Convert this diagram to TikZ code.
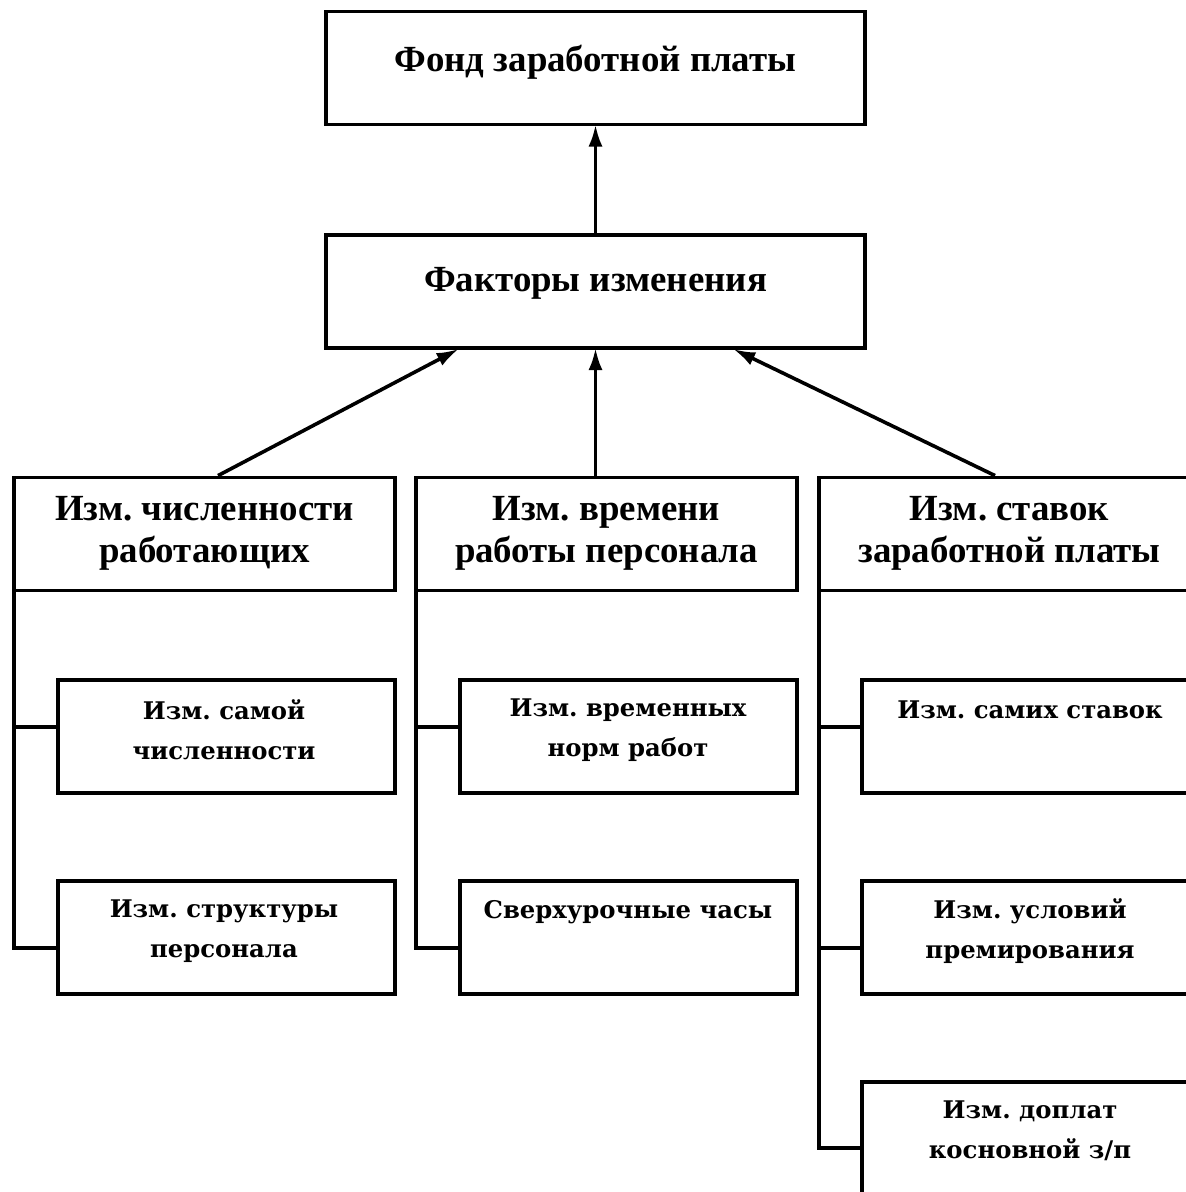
\documentclass[tikz,border=0pt]{standalone}
\usepackage{fontspec}
\setmainfont{Liberation Serif}
\newfontfamily\subfont{DejaVu Serif Bold}
\usetikzlibrary{arrows.meta}
\frenchspacing
\begin{document}
\begin{tikzpicture}[x=1bp,y=-1bp,
  box/.style={draw, line width=3.8bp, inner sep=0pt, minimum width=#1, minimum height=113bp},
  box/.default=539bp,
  conn/.style={line width=3.6bp},
  arr/.style={line width=3.6bp, -{Latex[length=22bp,width=14bp]}, shorten >=-1.9bp},
  bigtxt/.style={font=\fontsize{37}{42}\selectfont\bfseries, align=center, inner sep=0pt},
  smalltxt/.style={font=\fontsize{24.4}{40}\selectfont\subfont, align=center, inner sep=0pt}]
\clip (0,0) rectangle (1186,1192);
\fill[white] (0,0) rectangle (1186,1192);
% main boxes
\node[box] (top) at (595.5,68) {};
\node[box] (fac) at (595.5,291.5) {};
\node[box=381bp] (catL) at (204.5,534) {};
\node[box=381bp] (catM) at (606.5,534) {};
\node[box=381bp] (catR) at (1009.5,534) {};
% sub boxes
\node[box=337bp] (subL1) at (226.5,736.5) {};
\node[box=337bp] (subL2) at (226.5,937.5) {};
\node[box=337bp] (subM1) at (628.5,736.5) {};
\node[box=337bp] (subM2) at (628.5,937.5) {};
\node[box=337bp] (subR1) at (1030.5,736.5) {};
\node[box=337bp] (subR2) at (1030.5,937.5) {};
\node[box=337bp] (subR3) at (1030.5,1138.5) {};
% texts
\node[bigtxt] (ttop) at (595.5,62) {Фонд заработной платы};
\node[bigtxt] (tfac) at (595.5,283) {Факторы изменения};
\node[bigtxt] (tcatL) at (204.5,533) {Изм. численности\\работающих};
\node[bigtxt] (tcatM) at (606.5,533) {Изм. времени\\работы персонала};
\node[bigtxt] (tcatR) at (1009.5,533) {Изм. ставок\\заработной платы};
\node[smalltxt] (tsubL1) at (224,730) {Изм. самой\\численности};
\node[smalltxt] (tsubL2) at (224,931) {Изм. структуры\\персонала};
\node[smalltxt] (tsubM1) at (628,730) {Изм. временных\\норм работ};
\node[smalltxt] (tsubM2) at (628,912) {Сверхурочные часы};
\node[smalltxt] (tsubR1) at (1030,710) {Изм. самих ставок};
\node[smalltxt] (tsubR2) at (1030,931) {Изм. условий\\премирования};
\node[smalltxt] (tsubR3) at (1030,1131) {Изм. доплат\\косновной з/п};
% arrows
\draw[arr] (fac.north) -- (top.south);
\draw[arr] ([xshift=13.5bp]catL.north) -- ([xshift=-138.5bp]fac.south);
\draw[arr] (catM.north -| fac.south) -- (fac.south);
\draw[arr] ([xshift=-14.5bp]catR.north) -- ([xshift=139.5bp]fac.south);
% brackets
\draw[conn] ([xshift=1.8bp]catL.south west) |- ([yshift=-10.5bp]subL2.west);
\draw[conn] ([xshift=1.8bp]catL.south west |- subL1.west) ++(0,-9.5) -- ([yshift=9.5bp]subL1.west);
\draw[conn] ([xshift=1.8bp]catM.south west) |- ([yshift=-10.5bp]subM2.west);
\draw[conn] ([xshift=1.8bp]catM.south west |- subM1.west) ++(0,-9.5) -- ([yshift=9.5bp]subM1.west);
\draw[conn] ([xshift=1.8bp]catR.south west) |- ([yshift=-9.5bp]subR3.west);
\draw[conn] ([xshift=1.8bp]catR.south west |- subR1.west) ++(0,-9.5) -- ([yshift=9.5bp]subR1.west);
\draw[conn] ([xshift=1.8bp]catR.south west |- subR2.west) ++(0,10.5) -- ([yshift=-10.5bp]subR2.west);
\end{tikzpicture}
\end{document}
